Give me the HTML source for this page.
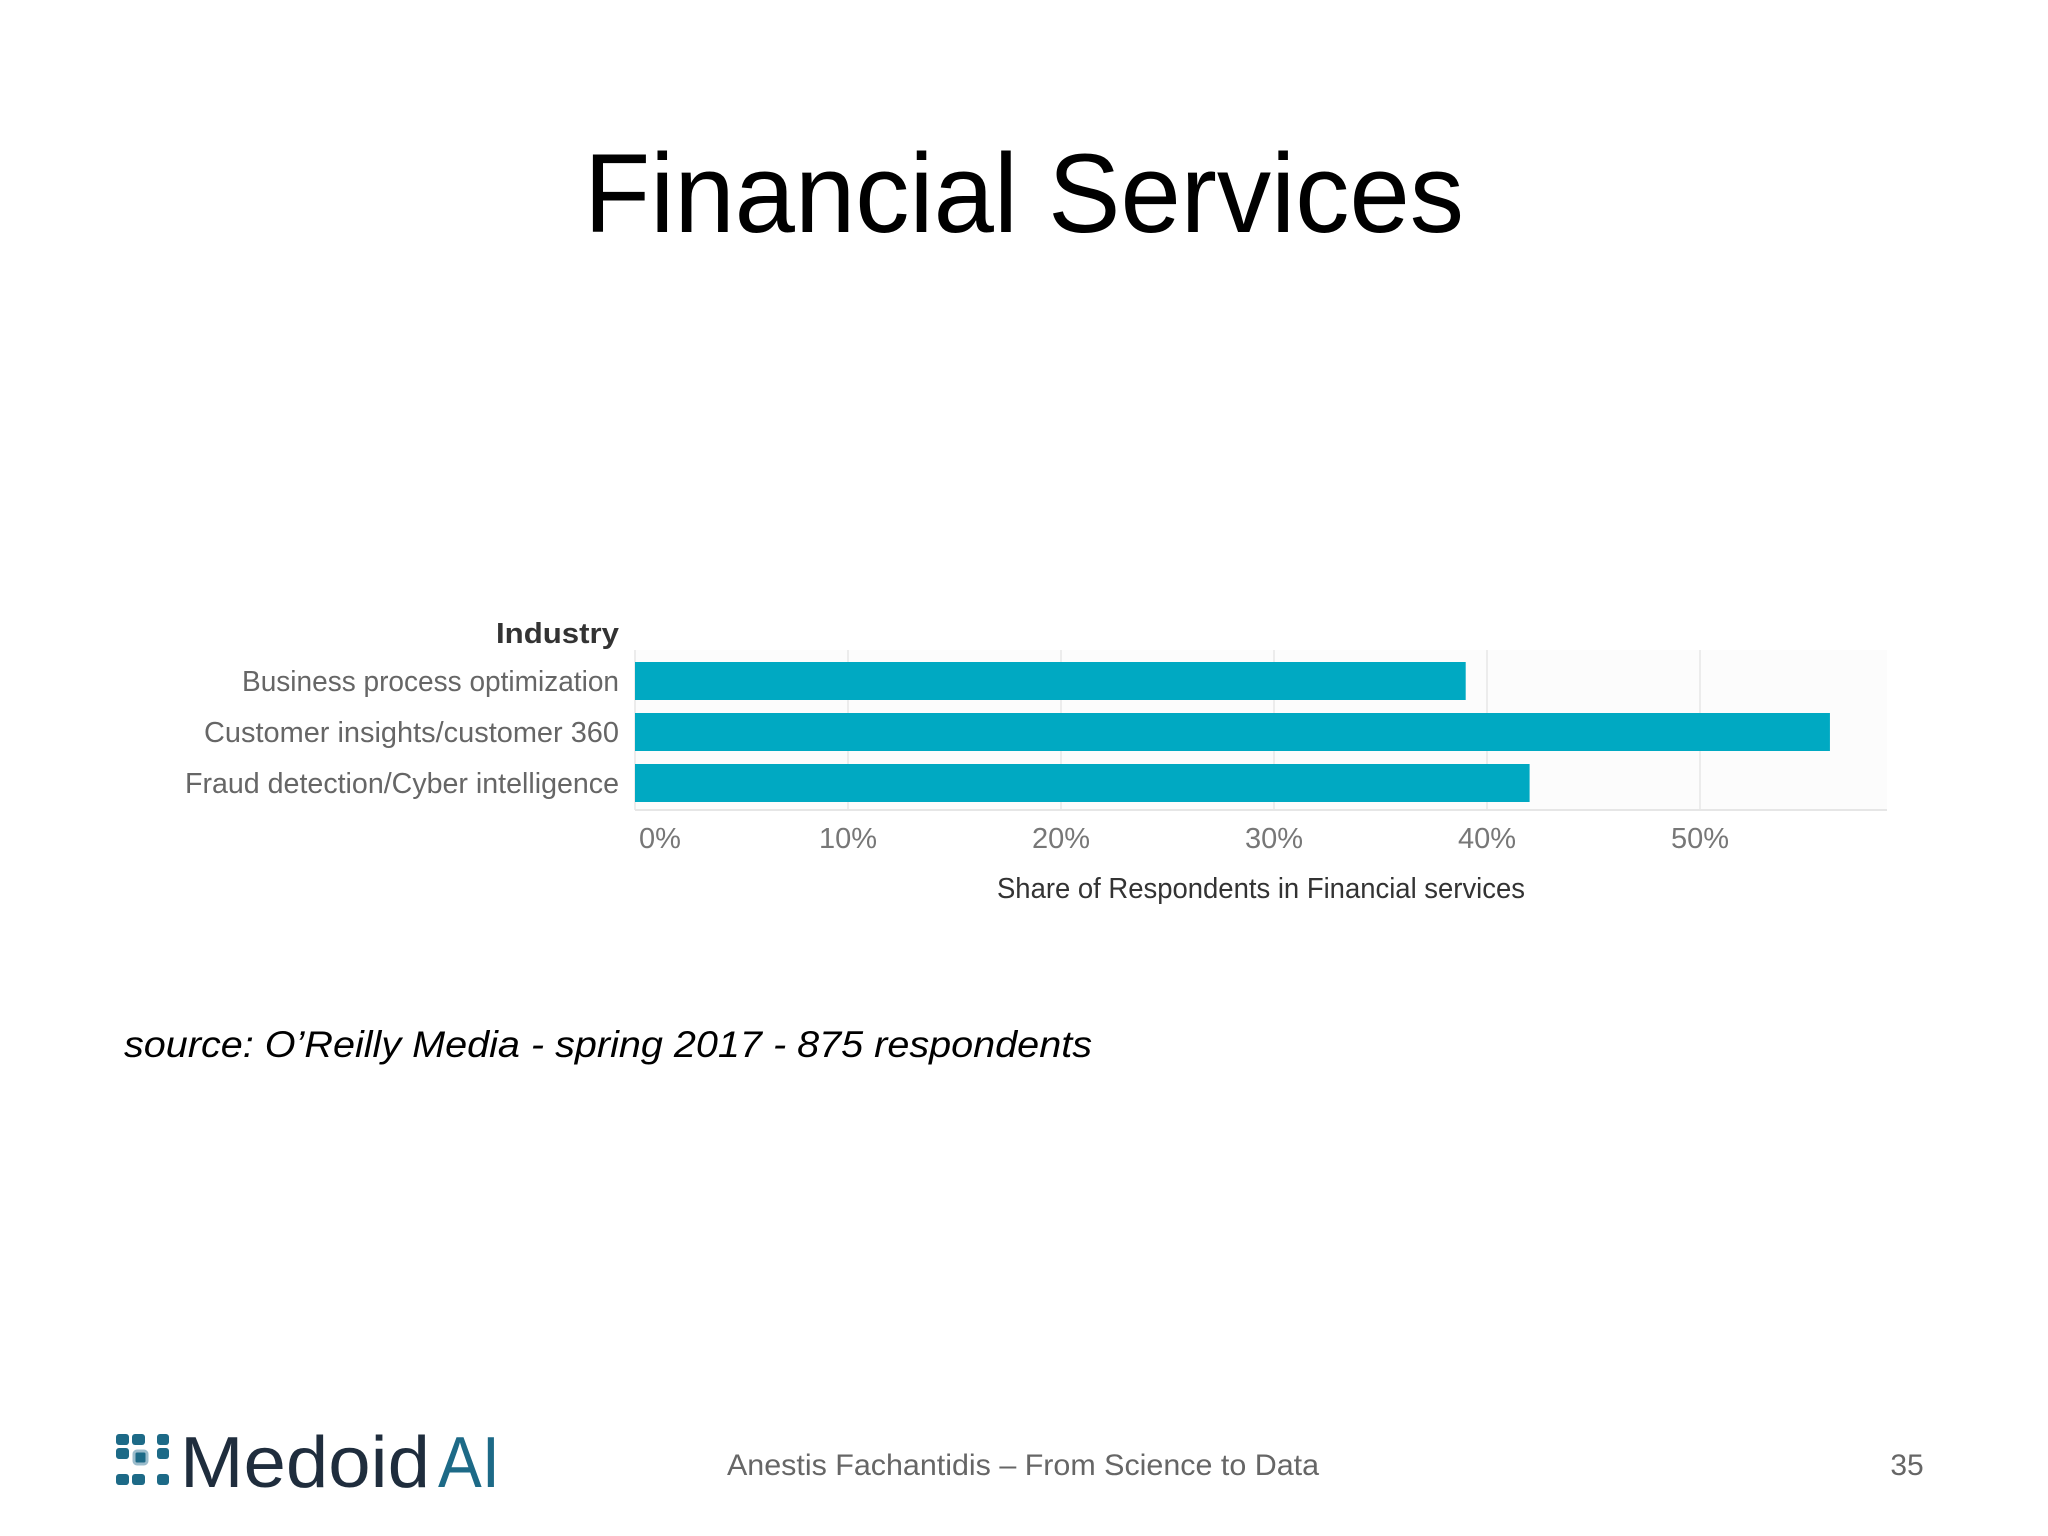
<!DOCTYPE html>
<html><head><meta charset="utf-8"><style>
html,body{margin:0;padding:0;background:#fff;}
svg{display:block;font-family:"Liberation Sans",sans-serif;}
</style></head><body>
<svg id="slide" width="2048" height="1536" viewBox="0 0 2048 1536">
<text x="1024" y="232" text-anchor="middle" font-size="112" fill="#000" textLength="880" lengthAdjust="spacingAndGlyphs">Financial Services</text>
<g id="chart"></g>
<text x="124" y="1057" font-size="37" font-style="italic" fill="#000" textLength="968" lengthAdjust="spacingAndGlyphs">source: O’Reilly Media - spring 2017 - 875 respondents</text>
<g>
  <rect x="116" y="1434" width="13" height="11" rx="3" fill="#1d6a87"/>
  <rect x="132" y="1434" width="13" height="11" rx="3" fill="#1d6a87"/>
  <rect x="157" y="1434" width="12" height="11" rx="3" fill="#1d6a87"/>
  <rect x="116" y="1448" width="13" height="11" rx="3" fill="#1d6a87"/>
  <rect x="134" y="1451" width="13" height="13" rx="3" fill="#1d6a87" stroke="#9bbccc" stroke-width="3"/>
  <rect x="157" y="1448" width="12" height="11" rx="3" fill="#1d6a87"/>
  <rect x="116" y="1474" width="13" height="11" rx="3" fill="#1d6a87"/>
  <rect x="132" y="1474" width="13" height="11" rx="3" fill="#1d6a87"/>
  <rect x="157" y="1474" width="12" height="11" rx="3" fill="#1d6a87"/>
  <text x="180" y="1487" font-size="72" fill="#1f2d3d" textLength="250" lengthAdjust="spacingAndGlyphs">Medoid</text>
  <text x="438" y="1487" font-size="72" fill="#1d6a87" textLength="62" lengthAdjust="spacingAndGlyphs">AI</text>
</g>
<text x="1023" y="1475" text-anchor="middle" font-size="30" fill="#666" textLength="592" lengthAdjust="spacingAndGlyphs">Anestis Fachantidis – From Science to Data</text>
<text x="1907" y="1475" text-anchor="middle" font-size="30" fill="#666">35</text>
</svg>
<script>
const categories = ["Business process optimization","Customer insights/customer 360","Fraud detection/Cyber intelligence"];
const values = [39, 56.1, 42];
const tickValues = [0,10,20,30,40,50];
const tickLabels = ["0%","10%","20%","30%","40%","50%"];
const labelWidths = [377, 415, 434];

const NS = "http://www.w3.org/2000/svg";
const g = document.getElementById("chart");
const x0 = 635, pxPerPct = 21.3;
const xScale = v => x0 + v * pxPerPct;
const rowTop = 662, rowStep = 51, barH = 38;
const yScale = i => rowTop + i * rowStep;
function mk(tag, attrs){const e=document.createElementNS(NS,tag);for(const k in attrs)e.setAttribute(k,attrs[k]);g.appendChild(e);return e;}

mk("rect",{x:635,y:650,width:1252,height:160,fill:"#fcfcfc"});
tickValues.forEach((t,i)=>{
  const l = mk("line",{x1:xScale(t),x2:xScale(t),y1:650,y2:810,stroke:"#ececec","stroke-width":2});
  
  
  const tx = mk("text",{x:xScale(t)+(t===0?25:0),y:848,"text-anchor":"middle","font-size":29,fill:"#777"});
  tx.textContent = tickLabels[i];
  
  
});
const base = mk("line",{x1:635,x2:1887,y1:810,y2:810,stroke:"#e6e6e6","stroke-width":2});



categories.forEach((c,i)=>{
  const r = mk("rect",{x:xScale(0),y:yScale(i),width:xScale(values[i])-xScale(0),height:barH,fill:"#00a9c2"});
  
  
  const t = mk("text",{x:619,y:yScale(i)+barH/2+10,"text-anchor":"end","font-size":29,fill:"#666",textLength:labelWidths[i],lengthAdjust:"spacingAndGlyphs"});
  t.textContent = c;
  
  
});
const yt = mk("text",{x:619,y:643,"text-anchor":"end","font-size":29,"font-weight":"bold",fill:"#333",textLength:123,lengthAdjust:"spacingAndGlyphs"});
yt.textContent = "Industry";


const xt = mk("text",{x:1261,y:898,"text-anchor":"middle","font-size":29,fill:"#333",textLength:528,lengthAdjust:"spacingAndGlyphs"});
xt.textContent = "Share of Respondents in Financial services";


</script>
</body></html>
